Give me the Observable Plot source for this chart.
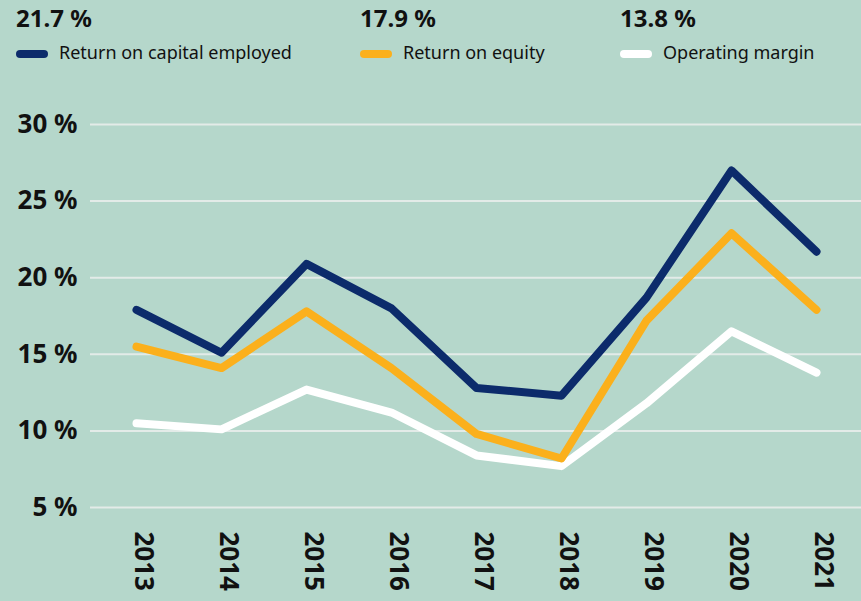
<!DOCTYPE html>
<html>
<head>
<meta charset="utf-8">
<script src="https://cdn.jsdelivr.net/npm/d3@7"></script>
<script src="https://cdn.jsdelivr.net/npm/@observablehq/plot@0.6"></script>
<style>
  html, body { margin: 0; padding: 0; background: #b5d7cb; }
  #wrap { width: 861px; height: 601px; position: relative; overflow: hidden; font-family: "Noto Sans", sans-serif; color: #111; }
  #head { position: relative; height: 80px; }
  .val { position: absolute; top: 6px; font-size: 24px; line-height: 24px; font-weight: bold; white-space: nowrap; }
  .sw { position: absolute; top: 50px; width: 32px; height: 8px; border-radius: 4px; }
  .lab { position: absolute; top: 43px; font-size: 18px; line-height: 18px; white-space: nowrap; }
</style>
</head>
<body>
<div id="wrap">
  <div id="head"></div>
  <div id="chart"></div>
</div>
<script>
const years = ["2013", "2014", "2015", "2016", "2017", "2018", "2019", "2020", "2021"];
const seriesNames = ["Return on capital employed", "Return on equity", "Operating margin"];
const seriesColors = ["#0c2b6b", "#fbb01c", "#ffffff"];
const headlineValues = ["21.7 %", "17.9 %", "13.8 %"];
const roce = [17.9, 15.1, 20.9, 18.0, 12.8, 12.3, 18.7, 27.0, 21.7];
const roe = [15.5, 14.1, 17.8, 14.1, 9.8, 8.2, 17.2, 22.9, 17.9];
const opm = [10.5, 10.1, 12.7, 11.2, 8.4, 7.7, 11.8, 16.5, 13.8];
const yTicks = [5, 10, 15, 20, 25, 30];

// header: headline values + legend
const head = document.getElementById("head");
const headX = [16, 360, 620];
seriesNames.forEach((name, i) => {
  const v = document.createElement("div");
  v.className = "val"; v.style.left = headX[i] + "px"; v.textContent = headlineValues[i];
  head.appendChild(v);
  const s = document.createElement("div");
  s.className = "sw"; s.style.left = headX[i] + "px"; s.style.background = seriesColors[i];
  head.appendChild(s);
  const l = document.createElement("div");
  l.className = "lab"; l.style.left = (headX[i] + 43) + "px"; l.textContent = name;
  head.appendChild(l);
});

// rows: drawn in order white, orange, navy
const seriesValues = [roce, roe, opm];
const rows = [];
[2, 1, 0].forEach(si => {
  years.forEach((yr, j) => rows.push({series: seriesNames[si], year: yr, value: seriesValues[si][j]}));
});

const chart = Plot.plot({
  width: 861,
  height: 521,
  marginTop: 44,
  marginBottom: 94,
  marginLeft: 133,
  marginRight: 42,
  style: {background: "transparent", fontFamily: "Noto Sans", overflow: "visible"},
  x: {type: "point", domain: years, padding: 0, axis: null},
  y: {domain: [5, 30], axis: null},
  color: {domain: seriesNames, range: seriesColors},
  marks: [
    Plot.ruleY(yTicks, {stroke: "#e3ebe8", strokeWidth: 2, insetLeft: -43, insetRight: -42}),
    Plot.axisY(yTicks, {tickSize: 0, tickPadding: 56, tickFormat: d => `${d} %`, fontSize: 26, fontWeight: "bold", fill: "#111", label: null}),
    Plot.line(rows, {x: "year", y: "value", z: "series", stroke: "series", strokeWidth: 8, strokeLinecap: "round", strokeLinejoin: "round"}),
    Plot.text(years, {x: d => d, frameAnchor: "bottom", rotate: 90, textAnchor: "start", lineAnchor: "bottom", dy: 24, dx: -2, fontSize: 26, fontWeight: "bold", fill: "#111"})
  ]
});
document.getElementById("chart").appendChild(chart);
</script>
</body>
</html>
